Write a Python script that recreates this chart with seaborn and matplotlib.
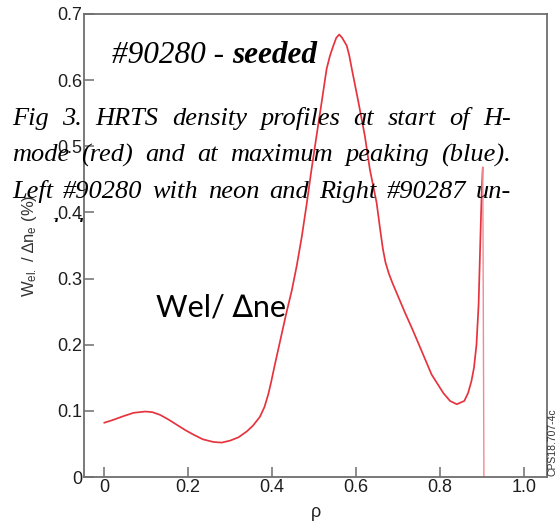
import matplotlib
matplotlib.use('Agg')
import matplotlib.pyplot as plt
import seaborn as sns
from matplotlib.transforms import Bbox, TransformedBbox

# ---------------- data ----------------
rho = [0.000, 0.020, 0.046, 0.070, 0.098, 0.115, 0.133, 0.153, 0.173, 0.193,
       0.213, 0.235, 0.260, 0.280, 0.300, 0.320, 0.340, 0.355, 0.371, 0.382,
       0.391, 0.398, 0.405, 0.419, 0.433, 0.447, 0.459, 0.471, 0.483, 0.494,
       0.506, 0.518, 0.530, 0.538, 0.546, 0.553, 0.560, 0.567, 0.578, 0.584,
       0.590, 0.606, 0.621, 0.633, 0.649, 0.658, 0.664, 0.670, 0.678, 0.687,
       0.697, 0.717, 0.736, 0.762, 0.780, 0.808, 0.824, 0.840, 0.858, 0.867,
       0.875, 0.881, 0.887, 0.892, 0.895, 0.898, 0.900, 0.902]
wel = [0.082, 0.086, 0.092, 0.097, 0.099, 0.098, 0.094, 0.087, 0.079, 0.071,
       0.064, 0.057, 0.053, 0.052, 0.055, 0.060, 0.069, 0.078, 0.091, 0.106,
       0.125, 0.144, 0.165, 0.205, 0.245, 0.282, 0.320, 0.364, 0.415, 0.465,
       0.516, 0.566, 0.617, 0.637, 0.652, 0.664, 0.669, 0.664, 0.652, 0.637,
       0.617, 0.566, 0.516, 0.465, 0.415, 0.372, 0.345, 0.325, 0.308, 0.293,
       0.278, 0.248, 0.221, 0.182, 0.155, 0.127, 0.115, 0.110, 0.115, 0.127,
       0.145, 0.165, 0.200, 0.260, 0.330, 0.400, 0.440, 0.468]
drop_rho = [0.902, 0.905]
drop_wel = [0.468, -0.05]

xticks = [0, 0.2, 0.4, 0.6, 0.8, 1.0]
xticklabels = ['0', '0.2', '0.4', '0.6', '0.8', '1.0']
yticks = [0, 0.1, 0.2, 0.3, 0.4, 0.5, 0.6, 0.7]
yticklabels = ['0', '0.1', '0.2', '0.3', '0.4', '0.5', '0.6', '0.7']

title_a = "#90280 - "
title_b = "seeded"
caption_lines = ["Fig 3. HRTS density profiles at start of H-",
                 "mode (red) and at maximum peaking (blue).",
                 "Left #90280 with neon and Right #90287 un-"]
caption_last = "seeded."
note = "Wel/ \u2206ne"
ylabel = "W$_{\\mathregular{el.}}$ / \u2206n$_{\\mathregular{e}}$ (%)"
xlabel = "\u03c1"
code = "CPS18.707-4c"

# ---------------- figure ----------------
sns.set_theme(style='white')
plt.rcParams['font.family'] = ['Liberation Sans', 'DejaVu Sans']
plt.rcParams['mathtext.fontset'] = 'custom'
plt.rcParams['mathtext.rm'] = 'Liberation Sans'
plt.rcParams['mathtext.it'] = 'Liberation Sans:italic'

W, H = 560, 526
fig = plt.figure(figsize=(W / 100, H / 100), dpi=100)
fig.patch.set_facecolor('white')
ax = fig.add_axes([84 / W, 1 - 477 / H, (547 - 84) / W, (477 - 14) / H])
ax.set_facecolor('white')

sns.lineplot(x=rho, y=wel, sort=False, estimator=None, color='#e6343f',
             lw=1.25, ax=ax)
sns.lineplot(x=drop_rho, y=drop_wel, sort=False, estimator=None,
             color='#f28a92', lw=1.0, ax=ax)

ax.set_xlim(-0.048, 1.055)
ax.set_ylim(0, 0.7)
ax.set_xticks(xticks)
ax.set_xticklabels(xticklabels)
ax.set_yticks(yticks)
ax.set_yticklabels(yticklabels)

spine_c = '#6e6e6e'
for s in ax.spines.values():
    s.set_color(spine_c)
    s.set_linewidth(1.3)
    s.set_visible(True)
ax.tick_params(axis='both', direction='in', length=7.5, width=1.1,
               color=spine_c, labelsize=13, labelcolor='#1e1e1e', pad=1.5)
ax.tick_params(axis='x', top=False, bottom=True)
ax.tick_params(axis='y', left=True, right=False)

ax.set_ylabel(ylabel, fontsize=12, color='#333333')
ax.yaxis.set_label_coords(-0.097, 0.5)
ax.set_xlabel(xlabel, fontsize=13, color='#222222')
ax.xaxis.label.set_va('baseline')
ax.xaxis.set_label_coords(0.5, -0.086)

# title-like annotation inside the plot
serif = ['Liberation Serif', 'DejaVu Serif']
renderer = fig.canvas.get_renderer()
ta = fig.text(112 / W, 1 - 63 / H, title_a, family=serif, style='italic',
              fontsize=22.5, va='baseline', ha='left', color='black')
wa = ta.get_window_extent(renderer).width
fig.text((112 + wa) / W, 1 - 63 / H, title_b, family=serif, style='italic',
         weight='bold', fontsize=22.5, va='baseline', ha='left', color='black')

# justified caption lines
def justify(line, y_px, x0, x1, fs):
    words = line.split(' ')
    texts = [fig.text(0, 0, w, family=serif, style='italic', fontsize=fs,
                      va='baseline', ha='left', color='black') for w in words]
    widths = [t.get_window_extent(renderer).width for t in texts]
    gap = (x1 - x0 - sum(widths)) / (len(words) - 1)
    x = x0
    for t, w in zip(texts, widths):
        t.set_position((x / W, 1 - y_px / H))
        x += w + gap

cap_fs = 19
baselines = [125, 161.5, 198]
for line, yb in zip(caption_lines, baselines):
    justify(line, yb, 12, 511, cap_fs)

last = fig.text(12 / W, 1 - 235 / H, caption_last, family=serif,
                style='italic', fontsize=cap_fs, va='baseline', ha='left',
                color='black')
last.set_clip_on(True)
last.set_clip_box(TransformedBbox(Bbox([[0, 1 - 222 / H], [1, 1]]),
                                  fig.transFigure))

# sans annotation
fig.text(156 / W, 1 - 317 / H, note, family=['Lato', 'DejaVu Sans'],
         fontsize=22, va='baseline', ha='left', color='black')

# small vertical code at right
fig.text(553 / W, 1 - 476 / H, code, rotation=90, fontsize=7.5,
         ha='center', va='bottom', color='#333333')

fig.savefig('out.png', dpi=100, facecolor='white')
